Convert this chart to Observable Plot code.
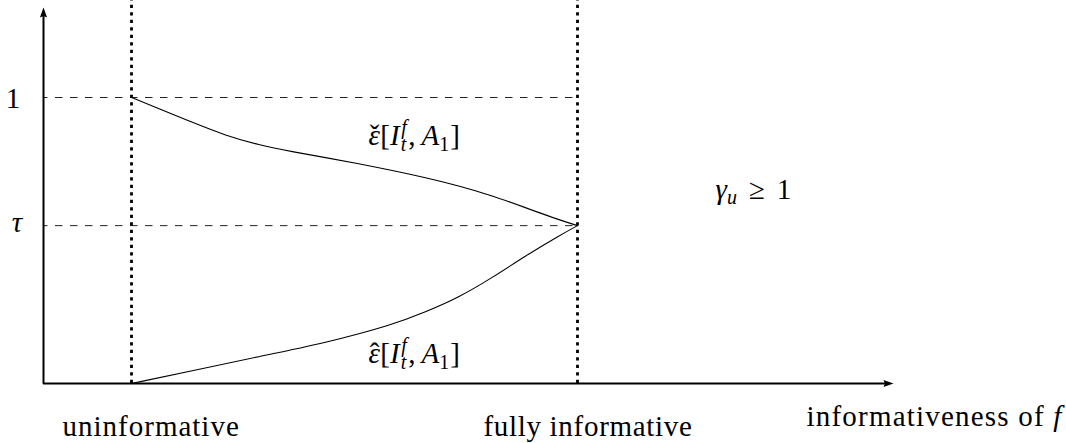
<!DOCTYPE html>
<html>
<head>
<meta charset="utf-8">
<script src="https://cdn.jsdelivr.net/npm/d3@7"></script>
<script src="https://cdn.jsdelivr.net/npm/@observablehq/plot@0.6"></script>
<style>
  html, body { margin: 0; padding: 0; background: white; }
  #chart svg { display: block; }
</style>
</head>
<body>
<div id="chart"></div>
<script>
// ---- data ----
const xCategories = ["uninformative", "fully informative"];
const xCategoryValues = [0, 1];
const xAxisTitle = "informativeness of f";
const yTickLabels = ["1", "τ"];
const yTickValues = [1, 0.552];

// upper curve  ε̌[I_t^f, A_1]
const upperX = [0, 0.0605, 0.137, 0.211, 0.285, 0.361, 0.435, 0.509, 0.585, 0.659, 0.733, 0.809, 0.883, 0.957, 1];
const upperY = [1.0, 0.9615, 0.9126, 0.867, 0.834, 0.810, 0.790, 0.769, 0.745, 0.720, 0.692, 0.657, 0.615, 0.573, 0.552];
// lower curve  ε̂[I_t^f, A_1]
const lowerX = [0, 0.137, 0.285, 0.435, 0.585, 0.659, 0.733, 0.809, 0.883, 0.957, 1];
const lowerY = [0, 0.045, 0.094, 0.142, 0.205, 0.250, 0.300, 0.370, 0.446, 0.515, 0.552];

const upperLabel = "ε̌[I_t^f, A_1]";
const lowerLabel = "ε̂[I_t^f, A_1]";
const regimeLabel = "γu ≥ 1";

// ---- build ----
const upper = upperX.map((x, i) => ({x, y: upperY[i]}));
const lower = lowerX.map((x, i) => ({x, y: lowerY[i]}));

const xDomain = [-131 / 446, 935 / 446];
const yDomain = [0, 383 / 286];
const xAxisStart = -88 / 446;
const xAxisEnd = 762 / 446;
const yAxisTop = 376 / 286;

const arrowHead = {
  draw(context) {
    context.moveTo(0, 0);
    context.lineTo(3.6, 10);
    context.lineTo(0, 8.5);
    context.lineTo(-3.6, 10);
    context.closePath();
  }
};

const FONT = "Liberation Serif";
const FS = 29;

const chart = Plot.plot({
  width: 1066,
  height: 443,
  marginTop: 0,
  marginBottom: 60,
  marginLeft: 0,
  marginRight: 0,
  x: {domain: xDomain, axis: null},
  y: {domain: yDomain, axis: null},
  marks: [
    // dashed reference lines
    Plot.ruleY(yTickValues, {x1: xAxisStart, x2: 1, stroke: "#222", strokeWidth: 1, strokeDasharray: "7.5,7.5", strokeDashoffset: 3}),
    // dotted verticals
    Plot.ruleX(xCategoryValues, {y1: 0, y2: yDomain[1], stroke: "black", strokeWidth: 2.8, strokeDasharray: "3.2,4.3"}),
    // curves
    Plot.line(upper, {x: "x", y: "y", curve: "basis", stroke: "black", strokeWidth: 1.1}),
    Plot.line(lower, {x: "x", y: "y", curve: "basis", stroke: "black", strokeWidth: 1.1}),
    // axes
    Plot.ruleY([0], {x1: xAxisStart, x2: xAxisEnd - 0.015, stroke: "black", strokeWidth: 2}),
    Plot.ruleX([xAxisStart], {y1: -0.003, y2: yAxisTop - 0.02, stroke: "black", strokeWidth: 2}),
    Plot.dot([{x: xAxisEnd, y: 0}], {x: "x", y: "y", symbol: arrowHead, fill: "black", stroke: null, rotate: 90, r: 5}),
    Plot.dot([{x: xAxisStart, y: yAxisTop}], {x: "x", y: "y", symbol: arrowHead, fill: "black", stroke: null, rotate: 0, r: 5}),
    // y tick labels
    Plot.text([yTickLabels[0]], {y: [yTickValues[0]], text: d => d, frameAnchor: "left", dx: 12.5, dy: 1.5, textAnchor: "middle", fontSize: FS, fontFamily: FONT, fill: "black"}),
    Plot.text([yTickLabels[1]], {y: [yTickValues[1]], text: d => d, frameAnchor: "left", dx: 16.5, dy: -2.5, textAnchor: "middle", fontSize: FS, fontFamily: FONT, fontStyle: "italic", fill: "black"}),
    // x category labels
    Plot.text(xCategories, {x: [-0.1547, 0.789], y: [-0.1853, -0.1853], text: d => d, textAnchor: "start", lineAnchor: "bottom", fontSize: FS, fontFamily: FONT, fill: "black"}),
    Plot.text([xAxisTitle], {x: [1.5135], y: [-0.1469], text: d => d, textAnchor: "start", lineAnchor: "bottom", fontSize: FS, fontFamily: FONT, fill: "black"}),
    // curve labels
    Plot.text([upperLabel, lowerLabel], {x: [0.5314, 0.5314], y: [0.8322, 0.0734], text: d => d, textAnchor: "start", lineAnchor: "bottom", fontSize: FS, fontFamily: FONT, fill: "black"}),
    Plot.text([regimeLabel], {x: [1.3094], y: [0.6434], text: d => d, textAnchor: "start", lineAnchor: "bottom", fontSize: FS, fontFamily: FONT, fill: "black"})
  ]
});

// rich-text formatting (accents, sub/superscripts, italics) of the labels
function epsParts(accent) {
  return [
    {t: "ε", it: true},
    {t: accent, dx: -10.3},
    {t: "[", dx: 1},
    {t: "I", it: true},
    {t: "f", it: true, fs: 20, dx: 1.5, dy: -11},
    {t: "t", it: true, fs: 20, dx: -6, dy: 17},
    {t: ",", dy: -6, dx: 2},
    {t: "A", it: true, dx: 6},
    {t: "1", fs: 20, dy: 6},
    {t: "]", dy: -6, dx: 1}
  ];
}
const richSpecs = {
  [upperLabel]: epsParts("ˇ"),
  [lowerLabel]: epsParts("ˆ"),
  [regimeLabel]: [
    {t: "γ", it: true},
    {t: "u", it: true, fs: 20, dy: 5},
    {t: "≥", dy: -5, dx: 12},
    {t: "1", dx: 12}
  ],
  [xAxisTitle]: [
    {t: "informativeness of "},
    {t: "f", it: true}
  ]
};
const spacing = {[xCategories[0]]: 1.0, [xCategories[1]]: 0.7, [xAxisTitle]: 1.2};
d3.select(chart).selectAll("text").each(function () {
  const key = this.textContent;
  const t = d3.select(this);
  if (spacing[key] != null) t.attr("letter-spacing", spacing[key]);
  const spec = richSpecs[key];
  if (!spec) return;
  t.text(null);
  for (const p of spec) {
    const ts = t.append("tspan").text(p.t);
    if (p.it) ts.attr("font-style", "italic");
    if (p.fs) ts.attr("font-size", p.fs);
    if (p.dx) ts.attr("dx", p.dx);
    if (p.dy) ts.attr("dy", p.dy);
  }
});

document.getElementById("chart").appendChild(chart);
</script>
</body>
</html>
